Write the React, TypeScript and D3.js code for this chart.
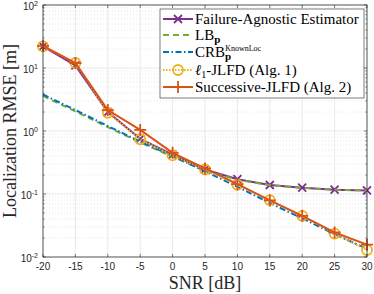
import React, { useRef, useEffect } from 'react';
import * as d3 from 'd3';

const snr = [-20, -15, -10, -5, 0, 5, 10, 15, 20, 25, 30];
const agnostic = [22, 11, 2.0, 0.75, 0.42, 0.245, 0.172, 0.139, 0.126, 0.117, 0.114];
const lbP = [3.6, 2.05, 1.15, 0.66, 0.39, 0.235, 0.168, 0.138, 0.125, 0.117, 0.114];
const crb = [3.8, 2.15, 1.2, 0.68, 0.4, 0.23, 0.13, 0.072, 0.041, 0.023, 0.0135];
const l1Jlfd = [22, 12, 1.95, 0.74, 0.41, 0.245, 0.14, 0.08, 0.045, 0.0235, 0.0129];
const successive = [22.5, 12, 2.15, 1.04, 0.45, 0.255, 0.143, 0.079, 0.045, 0.0245, 0.0157];
const xTicks = [-20, -15, -10, -5, 0, 5, 10, 15, 20, 25, 30];
const yDecades = [-2, -1, 0, 1, 2];

const W = 374;
const H = 294;
const margin = { top: 5, right: 7, bottom: 37, left: 43 };

export default function App() {
  const svgRef = useRef<SVGSVGElement>(null);

  useEffect(() => {
    if (!svgRef.current) return;
    const svg = d3.select(svgRef.current);
    svg.selectAll('*').remove();

    const x0 = margin.left, x1 = W - margin.right;
    const y0 = margin.top, y1 = H - margin.bottom;
    const x = d3.scaleLinear().domain([-20, 30]).range([x0, x1]);
    const y = d3.scaleLog().domain([0.01, 100]).range([y1, y0]);

    svg.append('rect').attr('x', x0).attr('y', y0).attr('width', x1 - x0).attr('height', y1 - y0).attr('fill', '#fff');

    // minor grid
    const minor: number[] = [];
    for (let e = -2; e < 2; e++) for (let k = 2; k <= 9; k++) minor.push(k * Math.pow(10, e));
    svg.append('g').selectAll('line').data(minor).join('line')
      .attr('x1', x0).attr('x2', x1).attr('y1', d => y(d)).attr('y2', d => y(d))
      .attr('stroke', '#d6d6d6').attr('stroke-width', 0.6).attr('stroke-dasharray', '1,2');

    // major grid
    svg.append('g').selectAll('line').data(xTicks.slice(1, -1)).join('line')
      .attr('x1', d => x(d)).attr('x2', d => x(d)).attr('y1', y0).attr('y2', y1)
      .attr('stroke', '#e3e3e3').attr('stroke-width', 0.8);
    svg.append('g').selectAll('line').data(yDecades.slice(1, -1)).join('line')
      .attr('x1', x0).attr('x2', x1).attr('y1', d => y(Math.pow(10, d))).attr('y2', d => y(Math.pow(10, d)))
      .attr('stroke', '#e3e3e3').attr('stroke-width', 0.8);

    const series = [
      { name: 'agn', data: agnostic, color: '#7E2F8E', dash: null, marker: 'x' },
      { name: 'lb', data: lbP, color: '#77AC30', dash: '6,4', marker: null },
      { name: 'crb', data: crb, color: '#0072BD', dash: '6,2.5,1.5,2.5', marker: null },
      { name: 'l1', data: l1Jlfd, color: '#EDB120', dash: '1.5,1.5', marker: 'o' },
      { name: 'succ', data: successive, color: '#D95319', dash: null, marker: '+' },
    ];

    const line = d3.line<number>().x((_, i) => x(snr[i])).y(d => y(d));

    const drawMarker = (g: any, kind: string, cx: number, cy: number, color: string) => {
      if (kind === 'x') {
        const s = 4;
        g.append('path').attr('d', `M${cx - s},${cy - s}L${cx + s},${cy + s}M${cx - s},${cy + s}L${cx + s},${cy - s}`)
          .attr('stroke', color).attr('stroke-width', 1.8).attr('fill', 'none');
      } else if (kind === 'o') {
        g.append('circle').attr('cx', cx).attr('cy', cy).attr('r', 5)
          .attr('stroke', color).attr('stroke-width', 1.8).attr('fill', 'none');
      } else if (kind === '+') {
        const s = 6;
        g.append('path').attr('d', `M${cx - s},${cy}L${cx + s},${cy}M${cx},${cy - s}L${cx},${cy + s}`)
          .attr('stroke', color).attr('stroke-width', 1.8).attr('fill', 'none');
      }
    };

    const plot = svg.append('g');
    series.forEach(s => {
      const p = plot.append('path').datum(s.data).attr('d', line)
        .attr('fill', 'none').attr('stroke', s.color).attr('stroke-width', 2);
      if (s.dash) p.attr('stroke-dasharray', s.dash);
      if (s.marker) s.data.forEach((v, i) => drawMarker(plot, s.marker as string, x(snr[i]), y(v), s.color));
    });

    // frame
    svg.append('rect').attr('x', x0).attr('y', y0).attr('width', x1 - x0).attr('height', y1 - y0)
      .attr('fill', 'none').attr('stroke', '#262626').attr('stroke-width', 0.8);

    // ticks (inward, both sides)
    const tk = svg.append('g').attr('stroke', '#262626').attr('stroke-width', 0.6);
    xTicks.forEach(t => {
      tk.append('line').attr('x1', x(t)).attr('x2', x(t)).attr('y1', y1).attr('y2', y1 - 3);
      tk.append('line').attr('x1', x(t)).attr('x2', x(t)).attr('y1', y0).attr('y2', y0 + 3);
    });
    yDecades.forEach(e => {
      const yy = y(Math.pow(10, e));
      tk.append('line').attr('x1', x0).attr('x2', x0 + 3).attr('y1', yy).attr('y2', yy);
      tk.append('line').attr('x1', x1).attr('x2', x1 - 3).attr('y1', yy).attr('y2', yy);
    });
    minor.forEach(m => {
      tk.append('line').attr('x1', x0).attr('x2', x0 + 1.5).attr('y1', y(m)).attr('y2', y(m));
      tk.append('line').attr('x1', x1).attr('x2', x1 - 1.5).attr('y1', y(m)).attr('y2', y(m));
    });

    const sans = 'Liberation Sans, Arial, sans-serif';
    const serif = 'Liberation Serif, Times New Roman, serif';

    svg.append('g').selectAll('text').data(xTicks).join('text')
      .attr('x', d => x(d)).attr('y', y1 + 13).attr('text-anchor', 'middle')
      .attr('font-family', sans).attr('font-size', 10).attr('fill', '#262626')
      .text(d => String(d));

    yDecades.forEach(e => {
      const t = svg.append('text').attr('x', x0 - 5).attr('y', y(Math.pow(10, e)) + 5)
        .attr('text-anchor', 'end').attr('font-family', sans).attr('font-size', 10).attr('fill', '#262626');
      t.append('tspan').text('10');
      t.append('tspan').attr('dy', -4).attr('font-size', 7).text(String(e));
    });

    svg.append('text').attr('x', (x0 + x1) / 2).attr('y', H - 5).attr('text-anchor', 'middle')
      .attr('font-family', serif).attr('font-size', 18).attr('fill', '#262626').text('SNR [dB]');
    svg.append('text').attr('transform', `translate(16,${(y0 + y1) / 2}) rotate(-90)`).attr('text-anchor', 'middle')
      .attr('font-family', serif).attr('font-size', 18).attr('fill', '#262626').text('Localization RMSE [m]');

    // legend
    const lg = svg.append('g');
    lg.append('rect').attr('x', 160).attr('y', 9).attr('width', 204).attr('height', 89)
      .attr('fill', '#fff').attr('stroke', '#262626').attr('stroke-width', 0.6);
    const rows = [19, 35, 52, 70, 87];
    series.forEach((s, i) => {
      const ry = rows[i];
      const l = lg.append('line').attr('x1', 163).attr('x2', 193).attr('y1', ry).attr('y2', ry)
        .attr('stroke', s.color).attr('stroke-width', 2);
      if (s.dash) l.attr('stroke-dasharray', s.dash);
      if (s.marker) drawMarker(lg, s.marker, 178, ry, s.color);
      const t = lg.append('text').attr('x', 195).attr('y', ry + 5)
        .attr('font-family', serif).attr('font-size', 15).attr('fill', '#000');
      if (s.name === 'agn') t.text('Failure-Agnostic Estimator');
      if (s.name === 'lb') {
        t.append('tspan').text('LB');
        t.append('tspan').attr('dy', 3).attr('font-size', 11).attr('font-weight', 'bold').text('p');
      }
      if (s.name === 'crb') {
        t.append('tspan').text('CRB');
        t.append('tspan').attr('dy', 3).attr('font-size', 11).attr('font-weight', 'bold').text('p');
        t.append('tspan').attr('dx', -6).attr('dy', -9).attr('font-size', 8).text('KnownLoc');
      }
      if (s.name === 'l1') {
        t.append('tspan').attr('font-style', 'italic').text('ℓ');
        t.append('tspan').attr('dy', 3).attr('font-size', 10).text('1');
        t.append('tspan').attr('dy', -3).text('-JLFD (Alg. 1)');
      }
      if (s.name === 'succ') t.text('Successive-JLFD (Alg. 2)');
    });
  }, []);

  return (
    <svg ref={svgRef} width={W} height={H}
      style={{ position: 'absolute', left: 0, top: 0, background: '#fff', display: 'block' }} />
  );
}
